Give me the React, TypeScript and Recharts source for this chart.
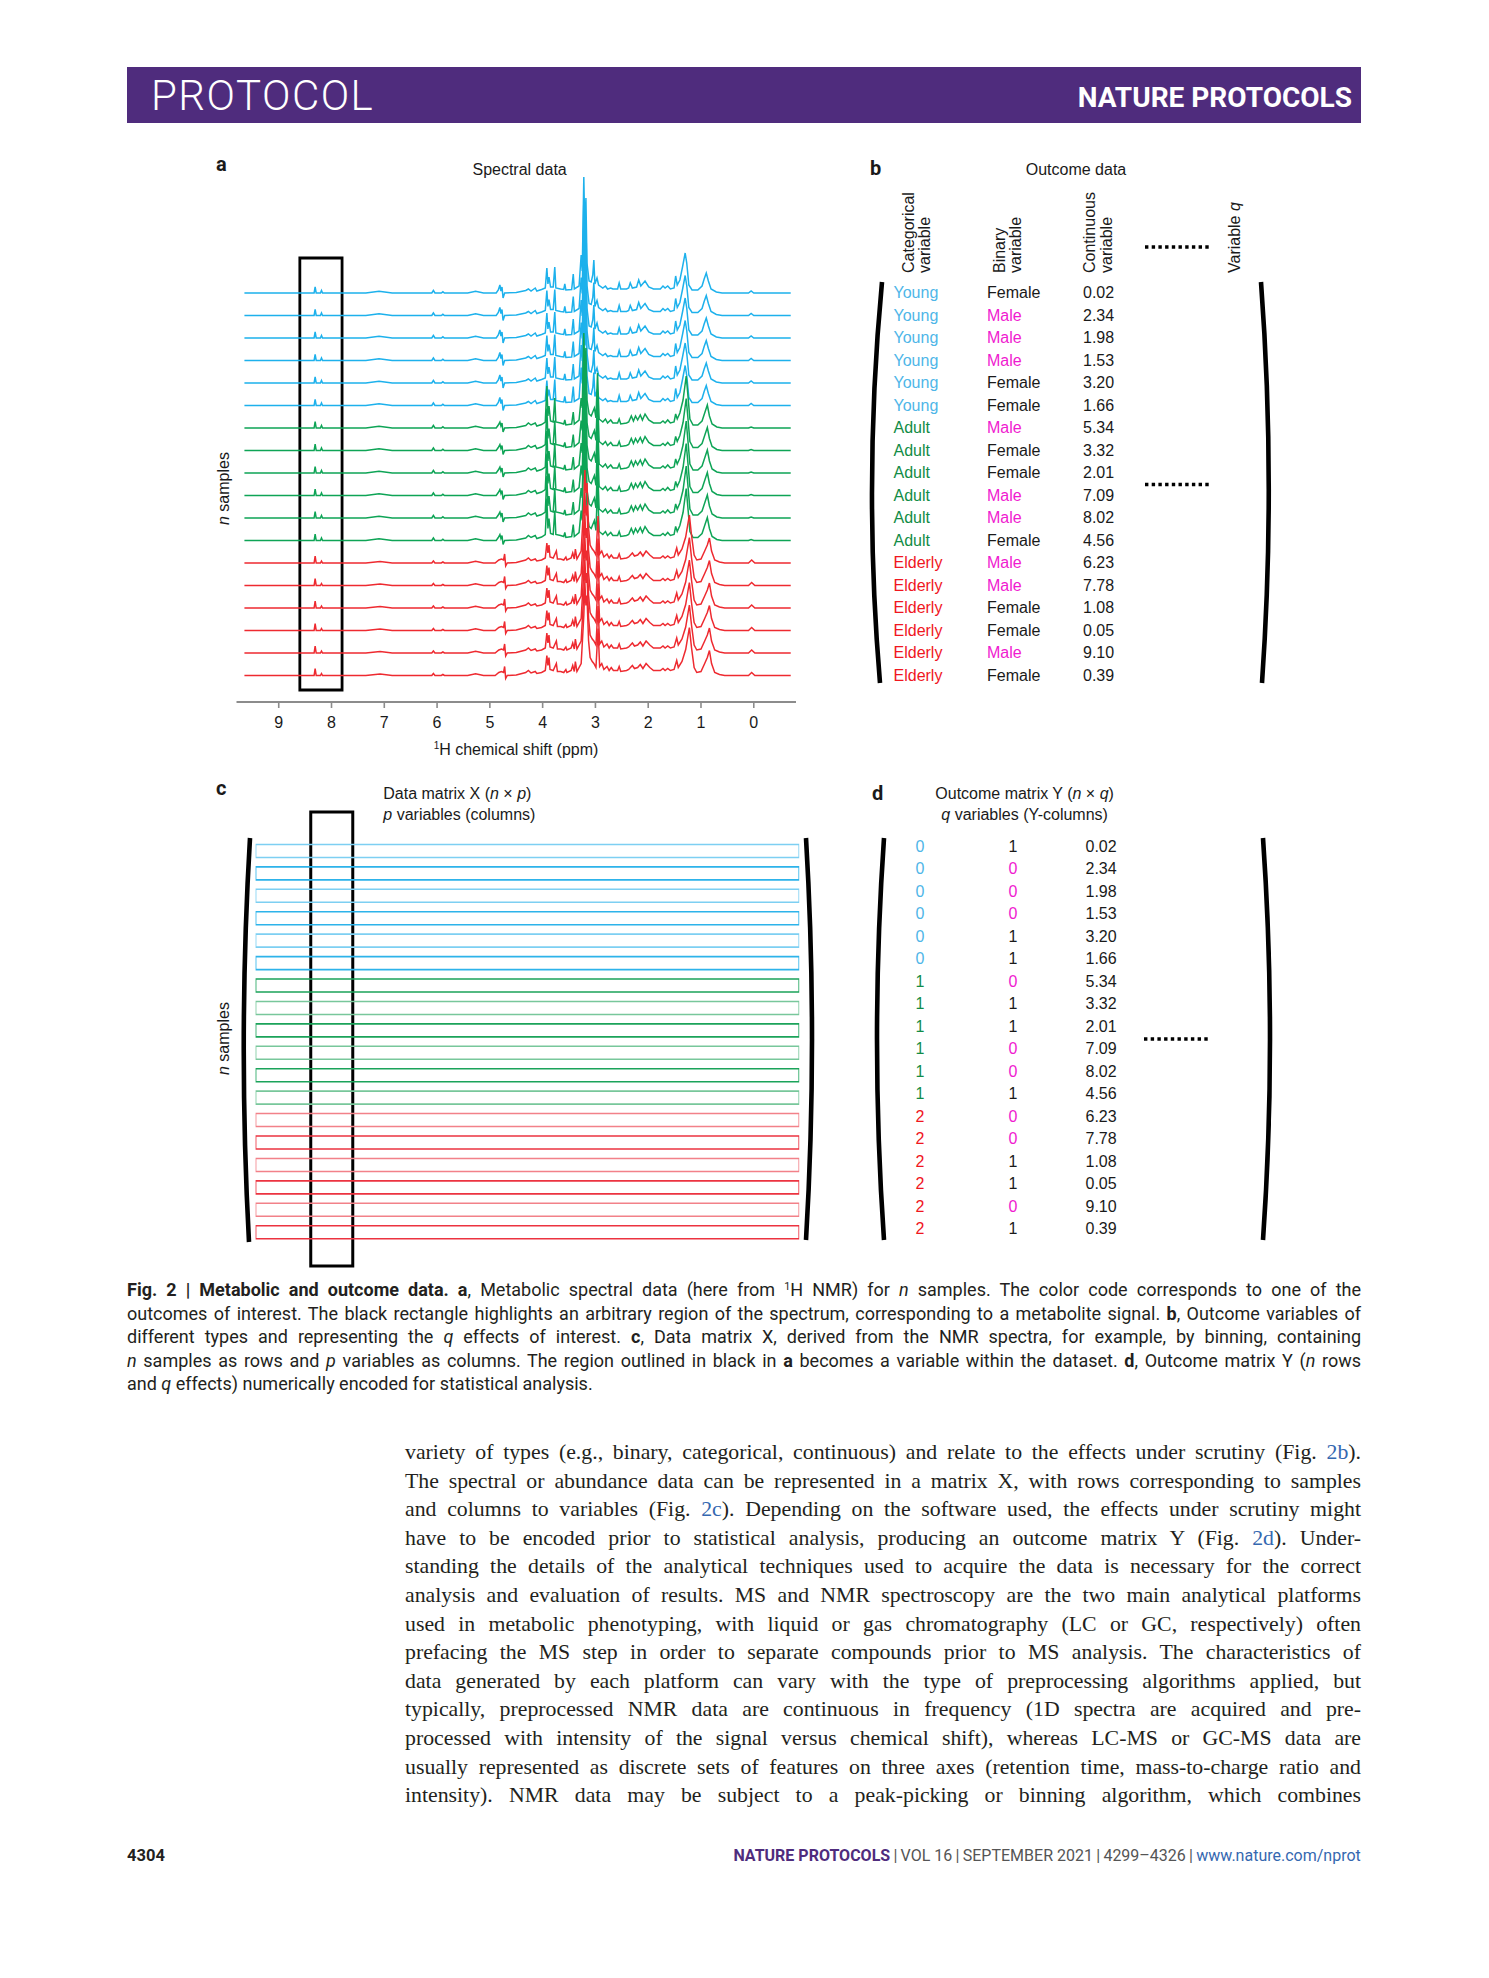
import React from 'react';
import { LineChart, Line, XAxis, YAxis, ReferenceArea, BarChart, Bar, Cell } from 'recharts';

type Group = 'Young' | 'Adult' | 'Elderly';

const ppmTicks = [9, 8, 7, 6, 5, 4, 3, 2, 1, 0];
const ageGroups: Group[] = [
  'Young', 'Young', 'Young', 'Young', 'Young', 'Young',
  'Adult', 'Adult', 'Adult', 'Adult', 'Adult', 'Adult',
  'Elderly', 'Elderly', 'Elderly', 'Elderly', 'Elderly', 'Elderly',
];
const sexes = [
  'Female', 'Male', 'Male', 'Male', 'Female', 'Female',
  'Male', 'Female', 'Female', 'Male', 'Male', 'Female',
  'Male', 'Male', 'Female', 'Female', 'Male', 'Female',
];
const continuousValues = [0.02, 2.34, 1.98, 1.53, 3.2, 1.66, 5.34, 3.32, 2.01, 7.09, 8.02, 4.56, 6.23, 7.78, 1.08, 0.05, 9.1, 0.39];
const ageCodes: Record<Group, number> = { Young: 0, Adult: 1, Elderly: 2 };
const sexCodes: Record<string, number> = { Female: 1, Male: 0 };
const highlightPpm: [number, number] = [8.6, 7.8];
const spectrumRange: [number, number] = [9.65, -0.7];

// [ppm, intensity] vertices, one typical trace per age group
const youngTrace: [number, number][] = [
  [9.65, 0], [8.33, 0], [8.31, 6], [8.29, 0], [8.21, 0], [8.19, 2.5], [8.17, 0],
  [7.35, 0], [7.1, 1.8], [6.85, 0], [6.1, 0], [6.07, 2.5], [6.04, 0], [5.92, 0], [5.89, 1.2], [5.86, 0],
  [5.42, 0], [5.27, 1.8], [5.12, 0], [4.88, 0], [4.84, 3], [4.81, 8], [4.79, 2], [4.77, 6], [4.75, -5], [4.72, 0],
  [4.5, 0.5], [4.32, 2.5], [4.27, 4], [4.22, 2], [4.14, 5], [4.11, 2], [4.02, 3.5], [3.95, 5],
  [3.92, 25], [3.9, 9], [3.88, 16], [3.85, 6], [3.8, 6], [3.77, 26], [3.75, 5], [3.66, 4], [3.6, 3.5], [3.58, 9], [3.56, 3],
  [3.45, 3.5], [3.42, 19], [3.4, 4], [3.31, 7], [3.27, 38], [3.25, 22], [3.22, 116], [3.2, 60], [3.18, 95], [3.16, 30], [3.12, 12],
  [3.08, 11], [3.05, 18], [3.03, 33], [3.01, 9], [2.97, 15], [2.94, 8], [2.86, 5], [2.81, 7], [2.77, 4], [2.71, 5], [2.67, 4],
  [2.58, 4], [2.55, 10], [2.52, 4], [2.41, 4], [2.37, 5], [2.34, 10], [2.3, 5], [2.22, 6], [2.18, 13], [2.14, 7], [2.06, 12], [1.99, 6],
  [1.9, 4], [1.77, 4], [1.72, 7], [1.68, 5], [1.63, 7], [1.58, 4], [1.51, 5], [1.48, 17], [1.45, 8], [1.4, 13], [1.35, 26], [1.3, 40],
  [1.27, 30], [1.23, 8], [1.17, 3], [1.06, 3], [0.98, 7], [0.94, 14], [0.9, 20], [0.86, 12], [0.81, 4], [0.71, 1], [0.6, 0],
  [0.1, 0], [0.05, 2], [0, 0], [-0.7, 0],
];
const adultTrace: [number, number][] = [
  [9.65, 0], [8.33, 0], [8.31, 6.5], [8.29, 0], [8.21, 0], [8.19, 2.5], [8.17, 0],
  [7.35, 0], [7.1, 1.8], [6.85, 0], [6.1, 0], [6.07, 2.5], [6.04, 0], [5.92, 0], [5.89, 1.2], [5.86, 0],
  [5.42, 0], [5.27, 1.8], [5.12, 0], [4.88, 0], [4.84, 3], [4.81, 6], [4.79, 2], [4.77, 5], [4.75, -4], [4.72, 0],
  [4.5, 0.5], [4.32, 2.5], [4.27, 5], [4.22, 3], [4.14, 5], [4.11, 2], [4.02, 3.5], [3.95, 6],
  [3.92, 42], [3.9, 12], [3.88, 22], [3.85, 7], [3.8, 6], [3.77, 30], [3.75, 6], [3.66, 5], [3.6, 4], [3.58, 8], [3.56, 3],
  [3.45, 4], [3.42, 16], [3.4, 4], [3.31, 8], [3.27, 30], [3.25, 20], [3.22, 95], [3.2, 55], [3.18, 80], [3.16, 28], [3.12, 14],
  [3.08, 12], [3.05, 16], [3.02, 20], [2.99, 10], [2.96, 55], [2.93, 9], [2.86, 6], [2.81, 9], [2.77, 5], [2.71, 8], [2.67, 5],
  [2.58, 5], [2.55, 9], [2.52, 4], [2.41, 5], [2.37, 6], [2.32, 12], [2.28, 7], [2.24, 12], [2.2, 8], [2.15, 13], [2.11, 8], [2.06, 14], [1.99, 8],
  [1.9, 5], [1.77, 5], [1.72, 7], [1.68, 5], [1.63, 8], [1.58, 5], [1.51, 6], [1.48, 14], [1.45, 9], [1.4, 15], [1.34, 28], [1.28, 52],
  [1.25, 34], [1.21, 9], [1.15, 3], [1.06, 3], [0.98, 7], [0.93, 15], [0.88, 23], [0.84, 12], [0.79, 4], [0.7, 1], [0.6, 0],
  [0.1, 0], [0.05, 1], [0, 0], [-0.7, 0],
];
const elderlyTrace: [number, number][] = [
  [9.65, 0], [8.33, 0], [8.31, 7], [8.29, 0], [8.21, 0], [8.19, 2], [8.17, 0],
  [7.35, 0], [7.08, 1.5], [6.85, 0], [6.1, 0], [6.07, 2], [6.04, 0], [5.92, 0], [5.89, 1], [5.86, 0],
  [5.42, 0], [5.27, 1.8], [5.12, 0], [4.9, 0], [4.83, 3], [4.78, 4], [4.74, 3], [4.72, 9], [4.7, -3], [4.67, 0],
  [4.5, 0.5], [4.32, 3], [4.27, 5], [4.22, 2.5], [4.14, 4], [4.11, 2], [4.02, 3], [3.95, 5],
  [3.92, 20], [3.9, 10], [3.88, 18], [3.86, 6], [3.8, 5], [3.74, 12], [3.72, 4], [3.66, 4], [3.6, 3], [3.56, 6], [3.54, 3],
  [3.46, 5], [3.43, 10], [3.4, 4], [3.38, 14], [3.35, 4], [3.27, 12], [3.22, 60], [3.2, 93], [3.18, 70], [3.16, 80], [3.13, 35], [3.1, 18],
  [3.06, 14], [3.03, 12], [2.99, 8], [2.95, 47], [2.92, 9], [2.88, 12], [2.84, 6], [2.78, 9], [2.74, 5], [2.7, 8], [2.66, 5],
  [2.58, 5], [2.55, 9], [2.52, 4], [2.41, 5], [2.37, 6], [2.3, 10], [2.26, 7], [2.2, 8], [2.15, 11], [2.1, 7], [2.04, 12], [1.97, 8],
  [1.9, 5], [1.77, 5], [1.72, 7], [1.68, 5], [1.63, 7], [1.58, 5], [1.51, 6], [1.46, 15], [1.43, 8], [1.36, 14], [1.29, 26], [1.22, 48],
  [1.18, 28], [1.13, 8], [1.08, 3], [1.0, 4], [0.93, 12], [0.88, 18], [0.84, 25], [0.8, 12], [0.74, 3], [0.65, 1], [0.55, 0],
  [0.1, 0], [0.04, 3], [-0.02, 0], [-0.7, 0],
];

const SANS = '"Liberation Sans", Arial, Helvetica, sans-serif';
const COND = 'Roboto, "Liberation Sans", sans-serif';
const SERIF = '"Liberation Serif", "Times New Roman", serif';
const INK = '#1a1a1a';
const PURPLE = '#4F2C7D';
const LINK = '#3568B0';
const MALE = '#F01AD0';

const traceColors: Record<Group, string> = { Young: '#1DB1EC', Adult: '#0EA456', Elderly: '#EE2A30' };
const textColors: Record<Group, string> = { Young: '#4FB6E8', Adult: '#128C46', Elderly: '#F0161E' };
const rowColors: Record<Group, [string, string]> = {
  Young: ['#7DCFF2', '#2DB3EA'],
  Adult: ['#1BA35A', '#78C79B'],
  Elderly: ['#F28189', '#EC3340'],
};

const traces: Record<Group, [number, number][]> = { Young: youngTrace, Adult: adultTrace, Elderly: elderlyTrace };

// stacked display: each sample drawn on its own baseline
const STACK_GAP = 22.5;
const TOP_OFFSET = 409;
const spectra = ageGroups.map((g, i) =>
  traces[g].map(([ppm, h]) => ({ ppm, y: TOP_OFFSET - i * STACK_GAP + h })),
);
const matrixRows = ageGroups.map((g, i) => ({ row: i, span: spectrumRange }));

const groupIndex = (i: number) => i - ageGroups.indexOf(ageGroups[i]);

const bracket = (x1: number, y1: number, x2: number, y2: number, cx: number) =>
  `M${x1},${y1} Q${cx},${(y1 + y2) / 2} ${x2},${y2}`;

const B = ({ children }: { children: React.ReactNode }) => <b style={{ fontWeight: 700 }}>{children}</b>;
const I = ({ children }: { children: React.ReactNode }) => <i>{children}</i>;
const Ref = ({ children }: { children: React.ReactNode }) => <span style={{ color: LINK }}>{children}</span>;

const captionLines: React.ReactNode[] = [
  <><B>Fig. 2 | Metabolic and outcome data. a</B>, Metabolic spectral data (here from <sup style={{ fontSize: '0.6em', lineHeight: 0, verticalAlign: '0.6em' }}>1</sup>H NMR) for <I>n</I> samples. The color code corresponds to one of the</>,
  <>outcomes of interest. The black rectangle highlights an arbitrary region of the spectrum, corresponding to a metabolite signal. <B>b</B>, Outcome variables of</>,
  <>different types and representing the <I>q</I> effects of interest. <B>c</B>, Data matrix X, derived from the NMR spectra, for example, by binning, containing</>,
  <><I>n</I> samples as rows and <I>p</I> variables as columns. The region outlined in black in <B>a</B> becomes a variable within the dataset. <B>d</B>, Outcome matrix Y (<I>n</I> rows</>,
  <>and <I>q</I> effects) numerically encoded for statistical analysis.</>,
];

const bodyLines: React.ReactNode[] = [
  <>variety of types (e.g., binary, categorical, continuous) and relate to the effects under scrutiny (Fig. <Ref>2b</Ref>).</>,
  <>The spectral or abundance data can be represented in a matrix X, with rows corresponding to samples</>,
  <>and columns to variables (Fig. <Ref>2c</Ref>). Depending on the software used, the effects under scrutiny might</>,
  <>have to be encoded prior to statistical analysis, producing an outcome matrix Y (Fig. <Ref>2d</Ref>). Under-</>,
  <>standing the details of the analytical techniques used to acquire the data is necessary for the correct</>,
  <>analysis and evaluation of results. MS and NMR spectroscopy are the two main analytical platforms</>,
  <>used in metabolic phenotyping, with liquid or gas chromatography (LC or GC, respectively) often</>,
  <>prefacing the MS step in order to separate compounds prior to MS analysis. The characteristics of</>,
  <>data generated by each platform can vary with the type of preprocessing algorithms applied, but</>,
  <>typically, preprocessed NMR data are continuous in frequency (1D spectra are acquired and pre-</>,
  <>processed with intensity of the signal versus chemical shift), whereas LC-MS or GC-MS data are</>,
  <>usually represented as discrete sets of features on three axes (retention time, mass-to-charge ratio and</>,
  <>intensity). NMR data may be subject to a peak-picking or binning algorithm, which combines</>,
];

const SpectraPanel = () => (
  <div style={{ position: 'absolute', left: 0, top: 0 }}>
    <LineChart width={800} height={760} margin={{ top: 160, right: 4, bottom: 8, left: 236.5 }}>
      <XAxis
        type="number"
        dataKey="ppm"
        domain={[-0.8, 9.8]}
        reversed
        allowDataOverflow
        ticks={ppmTicks}
        interval={0}
        height={50}
        tickSize={6}
        tickMargin={9}
        axisLine={{ stroke: '#8c8c8c', strokeWidth: 2 }}
        tickLine={{ stroke: '#8c8c8c', strokeWidth: 1.6 }}
        tick={{ fontSize: 16, fill: INK, fontFamily: SANS }}
      />
      <YAxis type="number" domain={[0, 542]} hide allowDataOverflow />
      {spectra.map((pts, i) => (
        <Line
          key={i}
          data={pts}
          dataKey="y"
          type="linear"
          stroke={traceColors[ageGroups[i]]}
          strokeWidth={1.5}
          dot={false}
          activeDot={false}
          isAnimationActive={false}
        />
      ))}
      <ReferenceArea
        x1={highlightPpm[0]}
        x2={highlightPpm[1]}
        y1={12}
        y2={444}
        fill="none"
        fillOpacity={0}
        stroke="#000"
        strokeWidth={2.8}
        ifOverflow="visible"
      />
    </LineChart>
  </div>
);

const MatrixPanel = () => (
  <div style={{ position: 'absolute', left: 250, top: 805 }}>
    <BarChart
      layout="vertical"
      width={555}
      height={470}
      data={matrixRows}
      margin={{ top: 7, right: 5.8, bottom: 9, left: 5.6 }}
      barSize={13}
    >
      <XAxis type="number" domain={[-0.7, 9.65]} reversed hide allowDataOverflow />
      <YAxis type="number" dataKey="row" domain={[-1.725, 18.52]} hide allowDataOverflow />
      <Bar dataKey="span" isAnimationActive={false} strokeWidth={1.6}>
        {matrixRows.map((r, i) => (
          <Cell key={i} fill="none" stroke={rowColors[ageGroups[i]][groupIndex(i) % 2]} />
        ))}
      </Bar>
      <ReferenceArea
        x1={highlightPpm[0]}
        x2={highlightPpm[1]}
        fill="none"
        fillOpacity={0}
        stroke="#000"
        strokeWidth={3}
        ifOverflow="visible"
      />
    </BarChart>
  </div>
);

const Overlay = () => (
  <svg width={1489} height={1978} style={{ position: 'absolute', left: 0, top: 0, pointerEvents: 'none' }} fontFamily={SANS} fill={INK}>
    {/* panel letters */}
    <g fontFamily={COND} fontWeight={700} fontSize={20}>
      <text x={216} y={171}>a</text>
      <text x={870} y={174.5}>b</text>
      <text x={216} y={795}>c</text>
      <text x={872} y={800}>d</text>
    </g>
    <g fontSize={16}>
      <text x={519.6} y={174.6} textAnchor="middle">Spectral data</text>
      <text x={1076} y={174.6} textAnchor="middle">Outcome data</text>
      <text x={516} y={754.6} textAnchor="middle">
        <tspan fontSize={10} dy={-6}>1</tspan>
        <tspan dy={6}>H chemical shift (ppm)</tspan>
      </text>
      <text x={229} y={525} transform="rotate(-90 229 525)"><tspan fontStyle="italic">n</tspan> samples</text>
      <text x={229} y={1075} transform="rotate(-90 229 1075)"><tspan fontStyle="italic">n</tspan> samples</text>

      <text x={383.3} y={798.5}>Data matrix X (<tspan fontStyle="italic">n</tspan> × <tspan fontStyle="italic">p</tspan>)</text>
      <text x={383.3} y={819.5}><tspan fontStyle="italic">p</tspan> variables (columns)</text>
      <text x={1024.6} y={798.5} textAnchor="middle">Outcome matrix Y (<tspan fontStyle="italic">n</tspan> × <tspan fontStyle="italic">q</tspan>)</text>
      <text x={1024.6} y={819.5} textAnchor="middle"><tspan fontStyle="italic">q</tspan> variables (Y-columns)</text>

      {/* panel b column headers */}
      <text x={914} y={273} transform="rotate(-90 914 273)">Categorical</text>
      <text x={930} y={273} transform="rotate(-90 930 273)">variable</text>
      <text x={1005} y={273} transform="rotate(-90 1005 273)">Binary</text>
      <text x={1021} y={273} transform="rotate(-90 1021 273)">variable</text>
      <text x={1095} y={273} transform="rotate(-90 1095 273)">Continuous</text>
      <text x={1112} y={273} transform="rotate(-90 1112 273)">variable</text>
      <text x={1240} y={273} transform="rotate(-90 1240 273)">Variable <tspan fontStyle="italic">q</tspan></text>

      {/* panel b rows */}
      {ageGroups.map((g, i) => {
        const y = 298.3 + i * STACK_GAP;
        return (
          <g key={`b${i}`}>
            <text x={893.5} y={y} fill={textColors[g]}>{g}</text>
            <text x={987} y={y} fill={sexes[i] === 'Male' ? MALE : INK}>{sexes[i]}</text>
            <text x={1083} y={y}>{continuousValues[i].toFixed(2)}</text>
          </g>
        );
      })}

      {/* panel d rows */}
      {ageGroups.map((g, i) => {
        const y = 851.7 + i * STACK_GAP;
        return (
          <g key={`d${i}`}>
            <text x={920} y={y} textAnchor="middle" fill={textColors[g]}>{ageCodes[g]}</text>
            <text x={1013} y={y} textAnchor="middle" fill={sexes[i] === 'Male' ? MALE : INK}>{sexCodes[sexes[i]]}</text>
            <text x={1085.5} y={y}>{continuousValues[i].toFixed(2)}</text>
          </g>
        );
      })}
    </g>

    {/* dotted continuation marks */}
    <g stroke="#000" strokeWidth={3.5} strokeDasharray="3.4 3.3">
      <line x1={1145} x2={1212} y1={247} y2={247} />
      <line x1={1145} x2={1212} y1={484.5} y2={484.5} />
      <line x1={1144} x2={1211} y1={1039} y2={1039} />
    </g>

    {/* matrix brackets */}
    <g fill="none" stroke="#000" strokeWidth={4.6}>
      <path d={bracket(882, 282, 880, 683, 863)} />
      <path d={bracket(1261, 282, 1262, 683, 1276)} />
      <path d={bracket(250, 838, 249, 1242, 238)} />
      <path d={bracket(806, 838, 806, 1240, 818)} />
      <path d={bracket(884, 838, 884, 1240, 870)} />
      <path d={bracket(1263, 838, 1263, 1240, 1277)} />
    </g>
  </svg>
);

export default function App() {
  return (
    <div style={{ position: 'absolute', left: 0, top: 0, width: 1489, height: 1978, background: '#fff', overflow: 'hidden', fontFamily: SANS }}>
      {/* running head */}
      <div style={{ position: 'absolute', left: 127, top: 67, width: 1234, height: 56, background: PURPLE }} />
      <div style={{ position: 'absolute', left: 151, top: 70.7, fontFamily: COND, fontWeight: 300, fontSize: 42, lineHeight: '50px', color: '#fff', letterSpacing: 1.5 }}>
        PROTOCOL
      </div>
      <div style={{ position: 'absolute', right: 137, top: 81.4, fontFamily: COND, fontWeight: 700, fontSize: 28, lineHeight: '34px', color: '#fff' }}>
        NATURE PROTOCOLS
      </div>

      <SpectraPanel />
      <MatrixPanel />
      <Overlay />

      {/* figure caption */}
      <div
        style={{
          position: 'absolute', left: 127, top: 1278.4, width: 1234,
          fontFamily: COND, fontSize: 18, lineHeight: '23.5px', color: '#231f20',
        }}
      >
        {captionLines.map((ln, i) => (
          <div key={i} style={{ textAlign: 'justify', textAlignLast: i < captionLines.length - 1 ? 'justify' : 'left' }}>{ln}</div>
        ))}
      </div>

      {/* body text */}
      <div
        style={{
          position: 'absolute', left: 405, top: 1438, width: 956,
          fontFamily: SERIF, fontSize: 21.8, lineHeight: '28.6px', color: '#231f20',
        }}
      >
        {bodyLines.map((ln, i) => (
          <div key={i} style={{ textAlign: 'justify', textAlignLast: 'justify' }}>{ln}</div>
        ))}
      </div>

      {/* folio */}
      <div style={{ position: 'absolute', left: 127, top: 1846, fontFamily: COND, fontWeight: 700, fontSize: 16.5, lineHeight: '20px', color: '#231f20' }}>
        4304
      </div>
      <div
        style={{
          position: 'absolute', right: 128, top: 1846, fontFamily: COND, fontSize: 16.5, lineHeight: '20px',
          color: '#555', whiteSpace: 'nowrap', transform: 'scaleX(0.97)', transformOrigin: '100% 0',
        }}
      >
        <span style={{ color: PURPLE, fontWeight: 700 }}>NATURE PROTOCOLS</span>
        {'\u2009|\u2009VOL 16\u2009|\u2009SEPTEMBER 2021\u2009|\u20094299–4326\u2009|\u2009'}
        <span style={{ color: LINK }}>www.nature.com/nprot</span>
      </div>
    </div>
  );
}
